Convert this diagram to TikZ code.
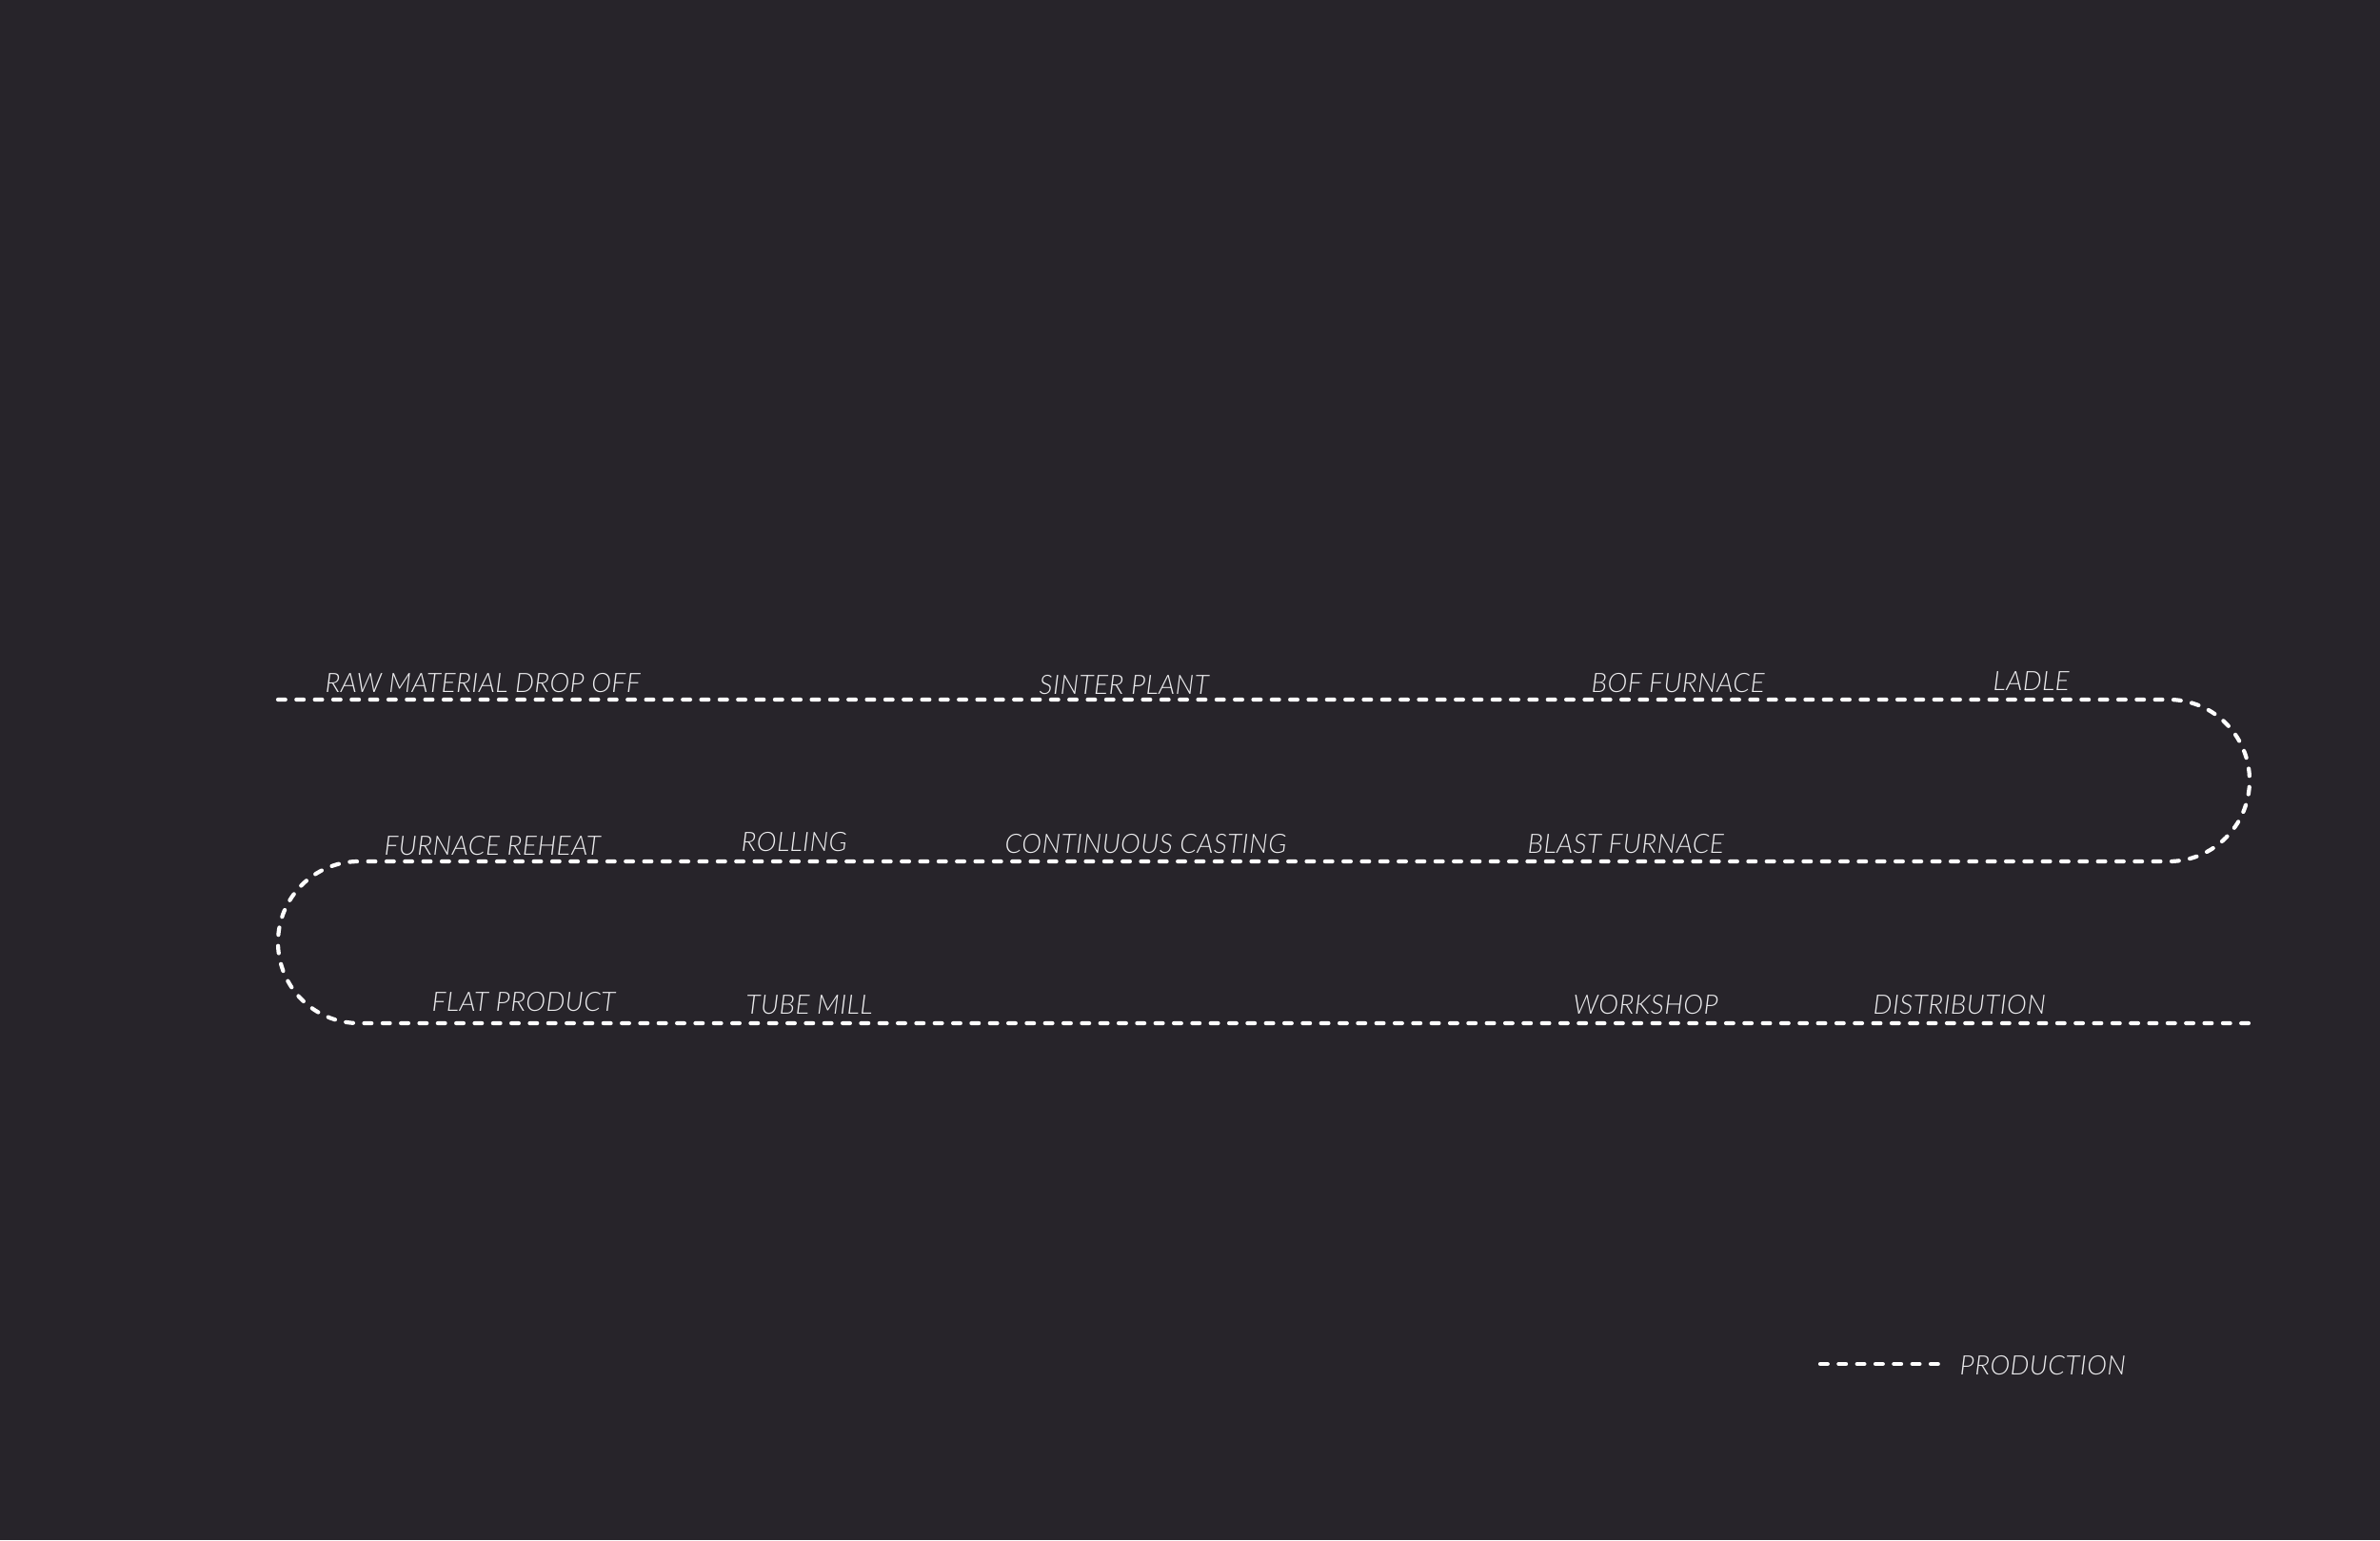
\documentclass[tikz,border=0pt]{standalone}
\usepackage{fontspec}
\newfontfamily\lblfont{Lato Light Italic}[LetterSpace=1.5]
\usetikzlibrary{positioning}
\definecolor{bgdark}{RGB}{39,36,42}
\definecolor{lbltext}{RGB}{236,236,238}

\begin{document}
\begin{tikzpicture}[
    production/.style = {draw = white, line width = 1.2pt, line cap = round,
                         dash pattern = on 2.2pt off 3.3pt},
    lbl/.style = {anchor = base west, inner sep = 0pt, text = lbltext,
                  font = \lblfont\fontsize{8}{9.6}\selectfont}
  ]
  \fill [bgdark] (0,0) rectangle (25,16.18);
  \useasboundingbox (0,0) rectangle (25,16.18);

  % the production line
  \coordinate (start) at (2.92,8.83);
  \coordinate (topr)  at (22.78,8.83);
  \coordinate (midl)  at (3.77,7.13);
  \coordinate (stop)  at (23.63,5.43);
  \draw [production] (start) -- (topr) arc [start angle = 90, end angle = -90, radius = 0.85]
        -- (midl) arc [start angle = 90, end angle = 270, radius = 0.85] -- (stop);

  % top row
  \node (raw)    at (3.41,8.91)  [lbl] {RAW MATERIAL DROP OFF};
  \node (sinter) at (10.91,8.89) [lbl] {SINTER PLANT};
  \node (bof)    at (16.71,8.91) [lbl] {BOF FURNACE};
  \node (ladle)  at (20.93,8.93) [lbl] {LADLE};
  % middle row
  \node (reheat)  at (4.03,7.20)  [lbl] {FURNACE REHEAT};
  \node (rolling) at (7.78,7.24)  [lbl] {ROLLING};
  \node (casting) at (10.55,7.22) [lbl] {CONTINUOUS CASTING};
  \node (blast)   at (16.04,7.22) [lbl] {BLAST FURNACE};
  % bottom row
  \node (flat)     at (4.53,5.56)  [lbl] {FLAT PRODUCT};
  \node (tube)     at (7.83,5.53)  [lbl] {TUBE MILL};
  \node (workshop) at (16.52,5.53) [lbl] {WORKSHOP};
  \node (distrib)  at (19.67,5.53) [lbl] {DISTRIBUTION};

  % legend
  \node (legend) at (20.58,1.74) [lbl] {PRODUCTION};
  \coordinate (legA) at (19.12,1.85);
  \coordinate (legB) at (20.41,1.85);
  \draw [production] (legA) -- (legB);
\end{tikzpicture}
\end{document}
